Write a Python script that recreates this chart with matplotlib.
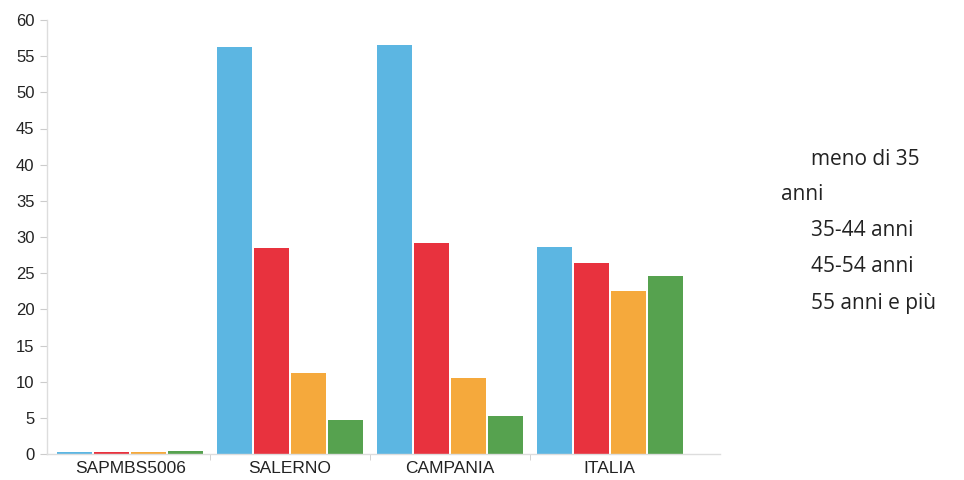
import matplotlib
matplotlib.use('Agg')
import matplotlib.pyplot as plt
import numpy as np

# groups on the x axis
categories = ['SAPMBS5006', 'SALERNO', 'CAMPANIA', 'ITALIA']

# values for each age class (percent)
meno35 = [0.3, 56.3, 56.6, 28.6]
anni35_44 = [0.3, 28.5, 29.2, 26.4]
anni45_54 = [0.3, 11.2, 10.5, 22.5]
anni55 = [0.4, 4.7, 5.3, 24.6]

series = [meno35, anni35_44, anni45_54, anni55]
colors = ['#5cb6e2', '#e8323e', '#f5a93c', '#56a24f']
legend_lines = ['meno di 35', 'anni', '35-44 anni', '45-54 anni', '55 anni e più']

fig = plt.figure(figsize=(9.64, 4.8), dpi=100)
ax = fig.add_axes([47/964, 26/480, 673/964, 434/480])

x = np.arange(len(categories))
w = 0.219
step = 0.231
for i, vals in enumerate(series):
    ax.bar(x + (i - 1.5) * step, vals, width=w, color=colors[i], zorder=2)

ax.set_xlim(-0.52, 3.69)
ax.set_ylim(0, 60)
ax.set_yticks(range(0, 61, 5))
ax.set_xticks(x)
ax.set_xticklabels(categories, family='Liberation Sans')
ax.set_yticklabels([str(v) for v in range(0, 61, 5)], family='Liberation Sans')
ax.set_xticks([0.5, 1.5, 2.5], minor=True)

for s in ['top', 'right']:
    ax.spines[s].set_visible(False)
for s in ['left', 'bottom']:
    ax.spines[s].set_color('#dddddd')
    ax.spines[s].set_linewidth(1)

ax.tick_params(axis='y', colors='#cccccc', labelcolor='#222222', labelsize=12, length=5, pad=4)
ax.tick_params(axis='x', which='major', length=0, labelsize=12.5, labelcolor='#222222', pad=5)
ax.tick_params(axis='x', which='minor', length=4, color='#cccccc')

# legend without markers, as in the source
ypos = [160, 195, 231, 267, 304]
xpos = [811, 781, 811, 811, 811]
for t, xp, yp in zip(legend_lines, xpos, ypos):
    fig.text(xp/964, 1 - yp/480, t, fontsize=15, family='Open Sans', color='#222222', va='center', ha='left')

fig.savefig('out.png', dpi=100)
